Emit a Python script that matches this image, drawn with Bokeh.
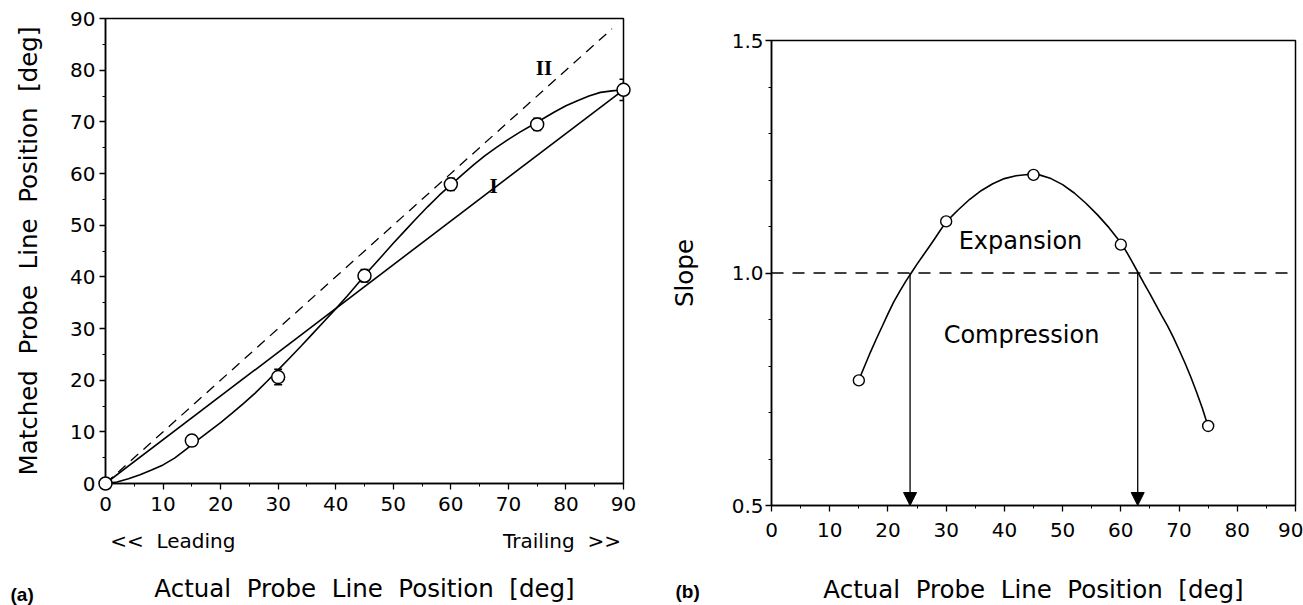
from bokeh.plotting import figure
from bokeh.layouts import row, column
from bokeh.models import (Range1d, FixedTicker, Label, Arrow, NormalHead, TeeHead,
                          Whisker, ColumnDataSource, Span, LinearAxis)
from bokeh.core.properties import value
from bokeh.embed import file_html
from bokeh.resources import INLINE

FONT = "DejaVu Sans"
SP = "\u00a0\u00a0"

# ---------------- data: panel (a) ----------------
actual_pos = [0, 15, 30, 45, 60, 75, 90]
matched_pos = [0, 8.3, 20.6, 40.2, 57.9, 69.5, 76.2]
matched_err = [0, 1.0, 1.5, 1.2, 1.2, 1.2, 2.05]
fit_x = [0, 2, 4, 6, 8, 10, 12, 14, 16, 18, 20, 22, 24, 26, 28, 30, 32, 34, 36, 38, 40,
         42, 44, 46, 48, 50, 52, 54, 56, 58, 60, 62, 64, 66, 68, 70, 72, 74, 76, 78, 80,
         82, 84, 86, 88, 90]
fit_y = [0, 0.3, 0.9, 1.7, 2.6, 3.6, 4.9, 6.6, 8.4, 10.1, 11.8, 13.6, 15.5, 17.5, 19.7,
         22.0, 24.3, 26.6, 29.0, 31.4, 33.8, 36.3, 38.9, 41.5, 44.0, 46.5, 48.9, 51.3,
         53.6, 55.8, 57.8, 59.8, 61.7, 63.5, 65.1, 66.6, 68.0, 69.3, 70.6, 71.9, 73.1,
         74.1, 75.0, 75.7, 76.0, 76.2]
line_I_x = [0, 90]
line_I_y = [0, 76.2]
line_II_x = [0, 88]
line_II_y = [0, 88]
ticks_a = [0, 10, 20, 30, 40, 50, 60, 70, 80, 90]
minor_a = [5, 15, 25, 35, 45, 55, 65, 75, 85]
direction_labels = {11.7: "<<" + SP + "Leading", 79.3: "Trailing" + SP + ">>"}

# ---------------- data: panel (b) ----------------
slope_x = [15, 30, 45, 60, 75]
slope_y = [0.769, 1.111, 1.211, 1.061, 0.671]
slope_fit_x = [15, 16, 17, 18, 19, 20, 21, 22, 23, 24, 25, 26, 27, 28, 29, 30, 32, 34, 36,
               38, 40, 42, 44, 46, 48, 50, 52, 54, 56, 58, 60, 61, 62, 63, 64, 65, 66, 67,
               68, 69, 70, 71, 72, 73, 74, 75]
slope_fit_y = [0.770, 0.800, 0.830, 0.858, 0.885, 0.912, 0.938, 0.960, 0.981, 1.000,
               1.019, 1.037, 1.055, 1.073, 1.092, 1.110, 1.135, 1.158, 1.177, 1.192,
               1.203, 1.209, 1.212, 1.211, 1.203, 1.190, 1.172, 1.150, 1.125, 1.097,
               1.065, 1.045, 1.023, 1.000, 0.977, 0.955, 0.932, 0.909, 0.887, 0.862,
               0.835, 0.807, 0.777, 0.744, 0.709, 0.670]
unity_slope = 1.0
crossings = [23.8, 62.9]
ticks_b_y = [0.5, 1.0, 1.5]
minor_b_y = [0.6, 0.7, 0.8, 0.9, 1.1, 1.2, 1.3, 1.4]

XLABEL = SP.join(["Actual", "Probe", "Line", "Position", "[deg]"])
YLABEL = SP.join(["Matched", "Probe", "Line", "Position", "[deg]"])


def style_axis(ax):
    ax.axis_line_width = 1.5
    ax.axis_line_color = "black"
    ax.major_tick_in = 0
    ax.major_tick_out = 6
    ax.minor_tick_in = 0
    ax.minor_tick_out = 3
    ax.major_tick_line_width = 1.3
    ax.minor_tick_line_width = 1.0
    ax.major_label_text_font = FONT
    ax.major_label_text_font_size = "20px"
    ax.major_label_text_color = "black"
    ax.axis_label_text_font = FONT
    ax.axis_label_text_font_size = "24.5px"
    ax.axis_label_text_font_style = "normal"
    ax.axis_label_text_color = "black"


def style_fig(p):
    p.grid.visible = False
    p.outline_line_color = "black"
    p.outline_line_width = 1.5
    p.background_fill_color = "white"
    p.border_fill_color = "white"
    for ax in p.axis:
        style_axis(ax)


# ---------------- panel (a) ----------------
pa = figure(frame_width=518, frame_height=465, min_border_left=105, min_border_right=37,
            min_border_top=18, min_border_bottom=122,
            x_range=Range1d(0, 90), y_range=Range1d(0, 90),
            output_backend="svg", toolbar_location=None)
pa.xaxis.ticker = FixedTicker(ticks=ticks_a, minor_ticks=minor_a)
pa.yaxis.ticker = FixedTicker(ticks=ticks_a, minor_ticks=minor_a)
pa.yaxis.axis_label = YLABEL
style_fig(pa)
pa.xaxis.major_label_standoff = 7
pa.yaxis.major_label_standoff = 4
pa.yaxis.axis_label_standoff = 24

dir_axis = LinearAxis(ticker=FixedTicker(ticks=list(direction_labels.keys())),
                      major_label_overrides=direction_labels, axis_label=XLABEL)
style_axis(dir_axis)
dir_axis.axis_line_color = None
dir_axis.major_tick_line_color = None
dir_axis.minor_tick_line_color = None
dir_axis.major_tick_out = 0
dir_axis.major_label_text_font_size = "20px"
dir_axis.major_label_standoff = 15
dir_axis.axis_label_standoff = 18
pa.add_layout(dir_axis, "below")

pa.line(line_II_x, line_II_y, line_color="black", line_width=1.3, line_dash="10 7")
pa.line(line_I_x, line_I_y, line_color="black", line_width=1.6)
pa.line(fit_x, fit_y, line_color="black", line_width=1.6)

src_a = ColumnDataSource(dict(x=actual_pos, y=matched_pos,
                              lo=[m - e for m, e in zip(matched_pos, matched_err)],
                              hi=[m + e for m, e in zip(matched_pos, matched_err)]))
wh = Whisker(base="x", upper="hi", lower="lo", source=src_a, dimension="height",
             line_color="black", line_width=1.5,
             upper_head=TeeHead(size=8, line_width=1.5, line_color="black"),
             lower_head=TeeHead(size=8, line_width=1.5, line_color="black"))
pa.add_layout(wh)
pa.scatter("x", "y", source=src_a, marker="circle", size=13, fill_color="white",
           line_color="black", line_width=1.5, level="overlay")


def ax_(px):
    return (px - 105) / 518 * 90


def ay_(py):
    return (483 - py) / 465 * 90


pa.add_layout(Label(x=ax_(543.5), y=ay_(67), text="II", text_font="Liberation Serif",
                    text_font_style="bold", text_font_size="21px", text_align="center",
                    text_baseline="middle", text_color="black"))
pa.add_layout(Label(x=ax_(493), y=ay_(185), text="I", text_font="Liberation Serif",
                    text_font_style="bold", text_font_size="21px", text_align="center",
                    text_baseline="middle", text_color="black"))
pa.text(x=[ax_(10)], y=[ay_(594)], text=["(a)"], text_font=value("Liberation Sans"),
        text_font_style="bold", text_font_size="19px", text_align="left",
        text_baseline="middle", text_color="black", level="overlay")

# ---------------- panel (b) ----------------
pb = figure(frame_width=524, frame_height=465, min_border_left=111, min_border_right=8,
            min_border_top=40, min_border_bottom=100,
            x_range=Range1d(0, 90), y_range=Range1d(0.5, 1.5),
            output_backend="svg", toolbar_location=None)
pb.xaxis.ticker = FixedTicker(ticks=ticks_a, minor_ticks=minor_a)
pb.yaxis.ticker = FixedTicker(ticks=ticks_b_y, minor_ticks=minor_b_y)
pb.yaxis.major_label_overrides = {0.5: "0.5", 1: "1.0", 1.5: "1.5"}
pb.xaxis.axis_label = XLABEL
pb.yaxis.axis_label = "Slope"
style_fig(pb)
pb.xaxis.major_label_standoff = 11
pb.yaxis.major_label_standoff = 2
pb.xaxis.axis_label_standoff = 35
pb.yaxis.axis_label_standoff = 30

pb.add_layout(Span(location=unity_slope, dimension="width", line_color="black",
                   line_width=1.3, line_dash="12 9"))
pb.line(slope_fit_x, slope_fit_y, line_color="black", line_width=1.6)
pb.scatter(slope_x, slope_y, marker="circle", size=11, fill_color="white",
           line_color="black", line_width=1.4, level="overlay")
for cx in crossings:
    pb.add_layout(Arrow(x_start=cx, y_start=unity_slope, x_end=cx, y_end=0.5,
                        line_color="black", line_width=1.3,
                        end=NormalHead(size=13, fill_color="black", line_color="black")))


def bx_(px):
    return (px - 771) / 524 * 90


def by_(py):
    return 0.5 + (505 - py) / 465


pb.add_layout(Label(x=bx_(1020), y=by_(240), text="Expansion", text_font=FONT,
                    text_font_size="24px", text_align="center", text_baseline="middle",
                    text_color="black"))
pb.add_layout(Label(x=bx_(1021), y=by_(334), text="Compression", text_font=FONT,
                    text_font_size="24px", text_align="center", text_baseline="middle",
                    text_color="black"))
pb.text(x=[bx_(675)], y=[by_(591)], text=["(b)"], text_font=value("Liberation Sans"),
        text_font_style="bold", text_font_size="19px", text_align="left",
        text_baseline="middle", text_color="black", level="overlay")

layout = row(column(pa), column(pb), spacing=0)
open("out.html", "w").write(file_html(layout, INLINE))
